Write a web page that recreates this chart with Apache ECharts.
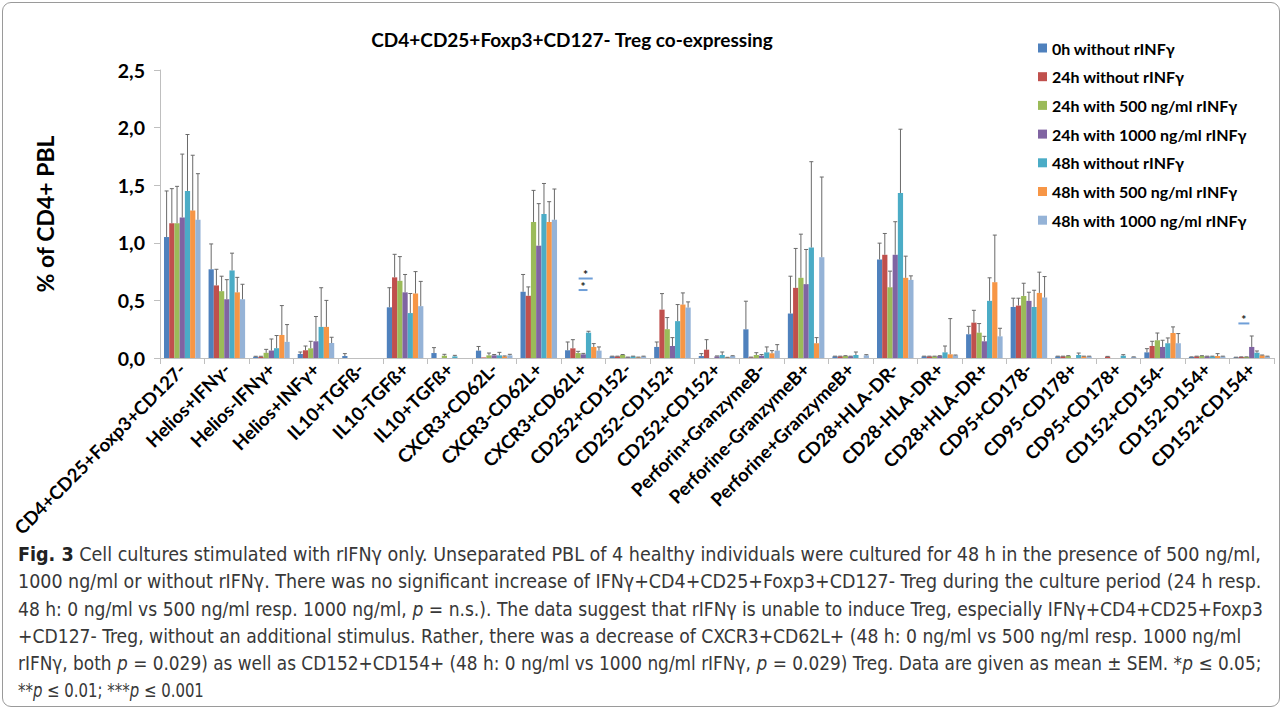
<!DOCTYPE html>
<html><head><meta charset="utf-8">
<script src="https://cdn.jsdelivr.net/npm/echarts@6/dist/echarts.min.js"></script>
<style>
html,body{margin:0;padding:0;background:#fff;width:1282px;height:709px;overflow:hidden;}
#frame{position:absolute;left:2px;top:2px;width:1278px;height:705px;border:1px solid #9a9a9a;border-radius:9px;box-sizing:border-box;}
#chart{position:absolute;left:0;top:0;width:1282px;height:709px;}
</style></head>
<body>
<div id="frame"></div>
<div id="chart"></div>
<script>
const categories = ['CD4+CD25+Foxp3+CD127-','Helios+IFNγ-','Helios-IFNγ+','Helios+INFγ+','IL10+TGFß-','IL10-TGFß+','IL10+TGFß+','CXCR3+CD62L-','CXCR3-CD62L+','CXCR3+CD62L+','CD252+CD152-','CD252-CD152+','CD252+CD152+','Perforin+GranzymeB-','Perforine-GranzymeB+','Perforine+GranzymeB+','CD28+HLA-DR-','CD28-HLA-DR+','CD28+HLA-DR+','CD95+CD178-','CD95-CD178+','CD95+CD178+','CD152+CD154-','CD152-D154+','CD152+CD154+'];
const seriesNames = ['0h without rINFγ','24h without rINFγ','24h with 500 ng/ml rINFγ','24h with 1000 ng/ml rINFγ','48h without rINFγ','48h with 500 ng/ml rINFγ','48h with 1000 ng/ml rINFγ'];
const yTicks = [0, 0.5, 1.0, 1.5, 2.0, 2.5];

const mean_0h     = [1.05,0.77,0.01,0.035,0.017,0.44,0.043,0.064,0.575,0.067,0.014,0.096,0.017,0.249,0.386,0.014,0.855,0.014,0.206,0.443,0.014,0,0.049,0.009,0.006];
const sem_0h      = [0.40,0.22,0.005,0.017,0.021,0.17,0.047,0.036,0.15,0.072,0.002,0.043,0.021,0.244,0.324,0.002,0.142,0.002,0.069,0.076,0.002,0,0.032,0.001,0.001];
const mean_24h    = [1.17,0.63,0.01,0.067,0,0.70,0,0.005,0.54,0.084,0.014,0.42,0.072,0.006,0.609,0.014,0.896,0.014,0.307,0.455,0.014,0.012,0.104,0.014,0.009];
const sem_24h     = [0.30,0.14,0.005,0.037,0,0.20,0,0,0.077,0.075,0.002,0.139,0.087,0.002,0.342,0.002,0.185,0.002,0.107,0.064,0.002,0.002,0.041,0.002,0.001];
const mean_24h500 = [1.17,0.58,0.045,0.084,0,0.67,0.02,0.023,1.18,0.043,0.026,0.25,0,0.026,0.696,0.017,0.614,0.014,0.22,0.539,0.017,0,0.154,0.017,0.009];
const sem_24h500  = [0.32,0.13,0.03,0.061,0,0.21,0.012,0.02,0.275,0.015,0.004,0.101,0,0.02,0.379,0.003,0.14,0.002,0.079,0.11,0.003,0,0.063,0.003,0.001];
const mean_24h1000= [1.22,0.51,0.065,0.145,0,0.57,0,0.023,0.975,0.032,0.006,0.104,0.014,0.02,0.641,0.014,0.896,0.017,0.145,0.496,0,0,0.096,0.014,0.096];
const sem_24h1000 = [0.55,0.17,0.10,0.215,0,0.155,0,0.007,0.365,0.008,0.002,0.073,0.004,0.01,0.301,0.002,0.287,0.003,0.043,0.075,0,0,0.058,0.002,0.095];
const mean_48h    = [1.45,0.76,0.085,0.27,0,0.39,0.014,0.023,1.25,0.22,0.014,0.32,0.026,0.049,0.959,0.026,1.432,0.049,0.496,0.443,0.026,0.02,0.128,0.014,0.046];
const sem_48h     = [0.49,0.15,0.11,0.34,0,0.17,0.009,0.026,0.265,0.012,0.002,0.144,0.026,0.047,0.745,0.026,0.554,0.055,0.20,0.145,0.017,0.009,0.046,0.002,0.015];
const mean_48h500 = [1.28,0.57,0.20,0.27,0,0.56,0,0.014,1.18,0.096,0.006,0.464,0.005,0.041,0.128,0,0.696,0.032,0.658,0.565,0.014,0,0.217,0.017,0.023];
const sem_48h500  = [0.48,0.13,0.255,0.23,0,0.19,0,0.004,0.177,0.029,0.002,0.101,0.001,0.023,0.049,0,0.188,0.31,0.409,0.18,0.002,0,0.053,0.021,0.003];
const mean_48h1000= [1.20,0.51,0.14,0.13,0,0.45,0,0.023,1.20,0.064,0.014,0.438,0.017,0.064,0.875,0.023,0.678,0.023,0.188,0.525,0.014,0.009,0.128,0.014,0.014];
const sem_48h1000 = [0.40,0.13,0.15,0.05,0,0.215,0,0.009,0.267,0.032,0.002,0.049,0.003,0.052,0.696,0.006,0.035,0.003,0.07,0.182,0.002,0.001,0.084,0.002,0.002];

// significance marks: [category index, from bar slot, to bar slot, value of bar]
const sigMarks = [[9, 2.6, 5.3, 0.69], [9, 2.6, 4.3, 0.59], [24, 0.95, 3.05, 0.30]];

// caption lines, as [style, text] segments: n = normal, b = bold, i = italic
const captionLines = [
  [['b','Fig. 3'],['n',' Cell cultures stimulated with rIFNγ only. Unseparated PBL of 4 healthy individuals were cultured for 48 h in the presence of 500 ng/ml,']],
  [['n','1000 ng/ml or without rIFNγ. There was no significant increase of IFNγ+CD4+CD25+Foxp3+CD127- Treg during the culture period (24 h resp.']],
  [['n','48 h: 0 ng/ml vs 500 ng/ml resp. 1000 ng/ml, '],['i','p'],['n',' = n.s.). The data suggest that rIFNγ is unable to induce Treg, especially IFNγ+CD4+CD25+Foxp3']],
  [['n','+CD127- Treg, without an additional stimulus. Rather, there was a decrease of CXCR3+CD62L+ (48 h: 0 ng/ml vs 500 ng/ml resp. 1000 ng/ml']],
  [['n','rIFNγ, both '],['i','p'],['n',' = 0.029) as well as CD152+CD154+ (48 h: 0 ng/ml vs 1000 ng/ml rIFNγ, '],['i','p'],['n',' = 0.029) Treg. Data are given as mean ± SEM. *'],['i','p'],['n',' ≤ 0.05;']],
  [['n','**'],['i','p'],['n',' ≤ 0.01; ***'],['i','p'],['n',' ≤ 0.001']]
];
// caption layout (pixels)
const CAP_LEFT = 18, CAP_TOP = 555, CAP_STEP = 27;
const CAP_WIDTHS = [1244, 1244, 1246, 1224, 1244, 186];
const CAP_SIZE = 19;
const CAP_FAMILY = '"DejaVu Sans Condensed","Liberation Sans Narrow",Roboto,sans-serif';

const means = [mean_0h, mean_24h, mean_24h500, mean_24h1000, mean_48h, mean_48h500, mean_48h1000];
const sems  = [sem_0h, sem_24h, sem_24h500, sem_24h1000, sem_48h, sem_48h500, sem_48h1000];
const colors = ['#4F81BD','#C0504D','#9BBB59','#8064A2','#4BACC6','#F79646','#95B3D7'];
const GAP = 0.18, N = 7;
const FONT = 'Lato';

function errRender(s){
  return function(params, api){
    const cat = api.value(0), m = api.value(1), t = api.value(2);
    const band = api.size([1,0])[0];
    const inner = band*(1-GAP), bw = inner/N;
    const cx = api.coord([cat,0])[0] - inner/2 + bw*(s+0.5);
    const y0 = api.coord([cat,m])[1], y1 = api.coord([cat,t])[1];
    return {type:'group', children:[
      {type:'line', shape:{x1:cx,y1:y0,x2:cx,y2:y1}, style:{stroke:'#6a6a6a',lineWidth:1}},
      {type:'line', shape:{x1:cx-2,y1:y1,x2:cx+2,y2:y1}, style:{stroke:'#6a6a6a',lineWidth:1}}
    ]};
  };
}
function sigRender(params, api){
  const cat = api.value(0), a = api.value(1), b = api.value(2), v = api.value(3);
  const band = api.size([1,0])[0];
  const inner = band*(1-GAP), bw = inner/N;
  const left = api.coord([cat,0])[0] - inner/2;
  const y = api.coord([cat,v])[1];
  const x1 = left + bw*a, x2 = left + bw*b;
  return {type:'group', children:[
    {type:'line', shape:{x1:x1,y1:y,x2:x2,y2:y}, style:{stroke:'#6F9FD8',lineWidth:2}},
    {type:'text', style:{text:'*', x:(x1+x2)/2, y:y-4, align:'center', verticalAlign:'middle', lineHeight:10, fill:'#222', font:'bold 12px '+FONT}}
  ]};
}

const series = [];
means.forEach((m,s)=>{
  series.push({name:seriesNames[s], type:'bar', data:m, itemStyle:{color:colors[s]}, barGap:'0%', barCategoryGap:(GAP*100)+'%'});
});
means.forEach((m,s)=>{
  const d = [];
  m.forEach((v,i)=>{ if (sems[s][i] > 0) d.push([i, v, v + sems[s][i]]); });
  series.push({type:'custom', name:'err'+s, renderItem:errRender(s), data:d, z:3, silent:true, encode:{x:0,y:[1,2]}});
});
series.push({type:'custom', name:'sig', renderItem:sigRender, data:sigMarks, z:4, silent:true, encode:{x:0,y:3}});

// caption as ECharts graphic text, horizontally scaled to the reference line widths
const ctx = document.createElement('canvas').getContext('2d');
function segFont(t){ return (t==='b'?'bold ':'') + (t==='i'?'italic ':'') + CAP_SIZE + 'px ' + CAP_FAMILY; }
const captionGraphics = captionLines.map((segs, i)=>{
  let w = 0;
  segs.forEach(([t,txt])=>{ ctx.font = segFont(t); w += ctx.measureText(txt).width; });
  const text = segs.map(([t,txt])=> t==='n' ? txt : '{' + t + '|' + txt + '}').join('');
  return {type:'text', x:CAP_LEFT, y:CAP_TOP + i*CAP_STEP, scaleX: CAP_WIDTHS[i]/w, scaleY:1, silent:true,
    style:{text:text, fontSize:CAP_SIZE, fontFamily:CAP_FAMILY, fill:'#383838', align:'left', verticalAlign:'middle',
      rich:{b:{fontWeight:'bold', fontSize:CAP_SIZE, fontFamily:CAP_FAMILY, fill:'#222'},
            i:{fontStyle:'italic', fontSize:CAP_SIZE, fontFamily:CAP_FAMILY, fill:'#383838'}}}};
});

const chart = echarts.init(document.getElementById('chart'), null, {renderer:'svg'});
chart.setOption({
  animation:false,
  color:colors,
  title:{text:'CD4+CD25+Foxp3+CD127- Treg co-expressing', left:567, top:25, textAlign:'center',
    textStyle:{fontFamily:FONT, fontWeight:'bold', fontSize:19, color:'#000'}},
  legend:{data:seriesNames, orient:'vertical', left:1033, top:34, itemWidth:9, itemHeight:9, itemGap:10.7, icon:'rect',
    textStyle:{fontFamily:FONT, fontWeight:'bold', fontSize:16, color:'#000', lineHeight:18}},
  grid:{left:160, right:8, top:70, bottom:351, containLabel:false},
  xAxis:{type:'category', data:categories,
    axisLine:{lineStyle:{color:'#BFBFBF'}},
    axisTick:{show:true, length:6, lineStyle:{color:'#BFBFBF'}},
    axisLabel:{interval:0, rotate:45, margin:8, fontFamily:FONT, fontWeight:'bold', fontSize:18.5, color:'#000'}},
  yAxis:{type:'value', min:0, max:2.5, interval:0.5,
    name:'% of CD4+ PBL', nameLocation:'middle', nameRotate:90, nameGap:104,
    nameTextStyle:{fontFamily:FONT, fontWeight:'bold', fontSize:23, color:'#000'},
    splitLine:{show:false},
    axisLine:{show:true, lineStyle:{color:'#BFBFBF'}},
    axisTick:{show:true, length:6, lineStyle:{color:'#BFBFBF'}},
    axisLabel:{margin:15, fontFamily:FONT, fontWeight:'bold', fontSize:19.5, color:'#000',
      formatter:v=>yTicks.indexOf(v)>=0 ? v.toFixed(1).replace('.',',') : ''}},
  graphic:captionGraphics,
  series:series
});
</script>
</body></html>
